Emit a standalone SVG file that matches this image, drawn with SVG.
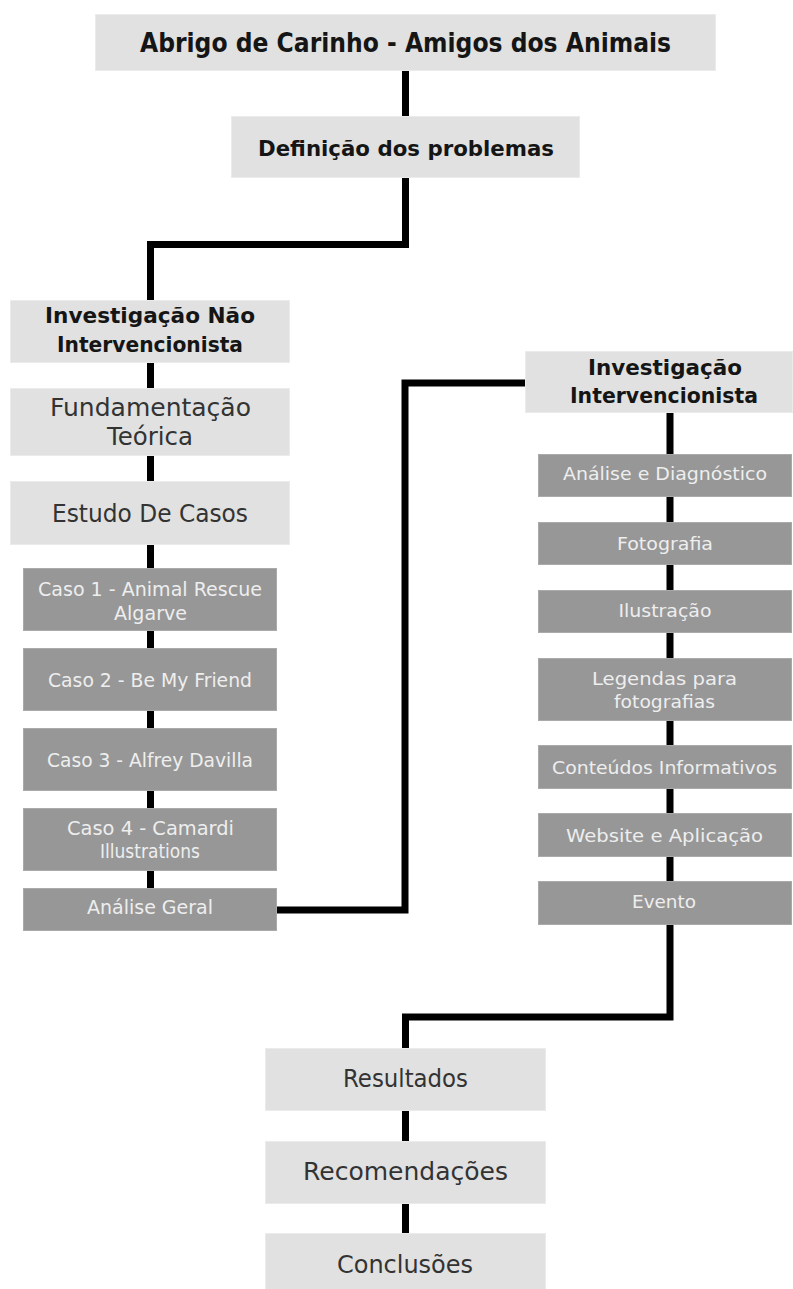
<svg xmlns="http://www.w3.org/2000/svg" width="793" height="1289" viewBox="0 0 793 1289">
<style>
.light{fill:#e0e1e0;stroke:#ebebeb;stroke-width:1}
.dark{fill:#979797;stroke:#aaaaaa;stroke-width:1}
text{font-family:"DejaVu Sans","Liberation Sans",sans-serif;text-anchor:middle}
.tb{font-weight:bold;fill:#151515}
.tr{fill:#333333}
.tw{fill:#eeeeee}
.conn{fill:none;stroke:#000;stroke-width:7;stroke-linejoin:miter}
</style>
<rect width="793" height="1289" fill="#ffffff"/>
<g id="connectors">
<path class="conn" d="M405.5 70 V117"/>
<path class="conn" d="M405.5 178 V244.5 H150.5 V301"/>
<path class="conn" d="M150.5 362 V889"/>
<path class="conn" d="M276 910 H405 V383 H526"/>
<path class="conn" d="M670 412 V1017 H405.5 V1049"/>
<path class="conn" d="M405.5 1110 V1234"/>
</g>
<g id="n-title">
<rect class="light" x="95.5" y="14.5" width="620" height="56"/>
<text class="tb" x="405.5" y="52" font-size="26" textLength="531" lengthAdjust="spacingAndGlyphs">Abrigo de Carinho - Amigos dos Animais</text>
</g>
<g id="n-definicao">
<rect class="light" x="231.5" y="116.5" width="348" height="61"/>
<text class="tb" x="406" y="156" font-size="22" textLength="296" lengthAdjust="spacingAndGlyphs">Definição dos problemas</text>
</g>
<g id="n-inv-nao">
<rect class="light" x="10.5" y="300.5" width="279" height="62"/>
<text class="tb" x="150" y="323" font-size="22" textLength="210" lengthAdjust="spacingAndGlyphs">Investigação Não</text>
<text class="tb" x="150" y="352" font-size="22" textLength="186" lengthAdjust="spacingAndGlyphs">Intervencionista</text>
</g>
<g id="n-fundamentacao">
<rect class="light" x="10.5" y="388.5" width="279" height="67"/>
<text class="tr" x="150.5" y="416" font-size="24" textLength="201" lengthAdjust="spacingAndGlyphs">Fundamentação</text>
<text class="tr" x="150" y="445" font-size="24" textLength="86" lengthAdjust="spacingAndGlyphs">Teórica</text>
</g>
<g id="n-estudo">
<rect class="light" x="10.5" y="481.5" width="279" height="63"/>
<text class="tr" x="150" y="522" font-size="24" textLength="196" lengthAdjust="spacingAndGlyphs">Estudo De Casos</text>
</g>
<g id="n-caso1">
<rect class="dark" x="23.5" y="568.5" width="253" height="62"/>
<text class="tw" x="150" y="596" font-size="20" textLength="224" lengthAdjust="spacingAndGlyphs">Caso 1 - Animal Rescue</text>
<text class="tw" x="150.5" y="620" font-size="20" textLength="73" lengthAdjust="spacingAndGlyphs">Algarve</text>
</g>
<g id="n-caso2">
<rect class="dark" x="23.5" y="648.5" width="253" height="62"/>
<text class="tw" x="150" y="687" font-size="20" textLength="204" lengthAdjust="spacingAndGlyphs">Caso 2 - Be My Friend</text>
</g>
<g id="n-caso3">
<rect class="dark" x="23.5" y="728.5" width="253" height="62"/>
<text class="tw" x="150" y="767" font-size="20" textLength="206" lengthAdjust="spacingAndGlyphs">Caso 3 - Alfrey Davilla</text>
</g>
<g id="n-caso4">
<rect class="dark" x="23.5" y="808.5" width="253" height="62"/>
<text class="tw" x="150.5" y="835" font-size="20" textLength="167" lengthAdjust="spacingAndGlyphs">Caso 4 - Camardi</text>
<text class="tw" x="150" y="858" font-size="20" textLength="100" lengthAdjust="spacingAndGlyphs">Illustrations</text>
</g>
<g id="n-analise-geral">
<rect class="dark" x="23.5" y="888.5" width="253" height="42"/>
<text class="tw" x="150" y="914" font-size="20" textLength="126" lengthAdjust="spacingAndGlyphs">Análise Geral</text>
</g>
<g id="n-inv-int">
<rect class="light" x="525.5" y="351.5" width="267" height="61"/>
<text class="tb" x="665" y="375" font-size="22" textLength="154" lengthAdjust="spacingAndGlyphs">Investigação</text>
<text class="tb" x="664" y="403" font-size="22" textLength="188" lengthAdjust="spacingAndGlyphs">Intervencionista</text>
</g>
<g id="n-analise-diag">
<rect class="dark" x="538.5" y="454.5" width="253" height="42"/>
<text class="tw" x="665" y="480" font-size="18" textLength="204" lengthAdjust="spacingAndGlyphs">Análise e Diagnóstico</text>
</g>
<g id="n-fotografia">
<rect class="dark" x="538.5" y="522.5" width="253" height="42"/>
<text class="tw" x="665" y="550" font-size="18" textLength="96" lengthAdjust="spacingAndGlyphs">Fotografia</text>
</g>
<g id="n-ilustracao">
<rect class="dark" x="538.5" y="590.5" width="253" height="42"/>
<text class="tw" x="665" y="617" font-size="18" textLength="93" lengthAdjust="spacingAndGlyphs">Ilustração</text>
</g>
<g id="n-legendas">
<rect class="dark" x="538.5" y="658.5" width="253" height="62"/>
<text class="tw" x="664.5" y="685" font-size="18" textLength="145" lengthAdjust="spacingAndGlyphs">Legendas para</text>
<text class="tw" x="664.5" y="708" font-size="18" textLength="101" lengthAdjust="spacingAndGlyphs">fotografias</text>
</g>
<g id="n-conteudos">
<rect class="dark" x="538.5" y="745.5" width="253" height="43"/>
<text class="tw" x="664.5" y="774" font-size="18" textLength="225" lengthAdjust="spacingAndGlyphs">Conteúdos Informativos</text>
</g>
<g id="n-website">
<rect class="dark" x="538.5" y="813.5" width="253" height="43"/>
<text class="tw" x="664.5" y="842" font-size="18" textLength="197" lengthAdjust="spacingAndGlyphs">Website e Aplicação</text>
</g>
<g id="n-evento">
<rect class="dark" x="538.5" y="881.5" width="253" height="43"/>
<text class="tw" x="664" y="908" font-size="18" textLength="64" lengthAdjust="spacingAndGlyphs">Evento</text>
</g>
<g id="n-resultados">
<rect class="light" x="265.5" y="1048.5" width="280" height="62"/>
<text class="tr" x="405.5" y="1087" font-size="24" textLength="125" lengthAdjust="spacingAndGlyphs">Resultados</text>
</g>
<g id="n-recomendacoes">
<rect class="light" x="265.5" y="1141.5" width="280" height="62"/>
<text class="tr" x="405.5" y="1180" font-size="24" textLength="205" lengthAdjust="spacingAndGlyphs">Recomendações</text>
</g>
<g id="n-conclusoes">
<rect class="light" x="265.5" y="1233.5" width="280" height="56"/>
<text class="tr" x="405" y="1273" font-size="24" textLength="136" lengthAdjust="spacingAndGlyphs">Conclusões</text>
</g>
</svg>
